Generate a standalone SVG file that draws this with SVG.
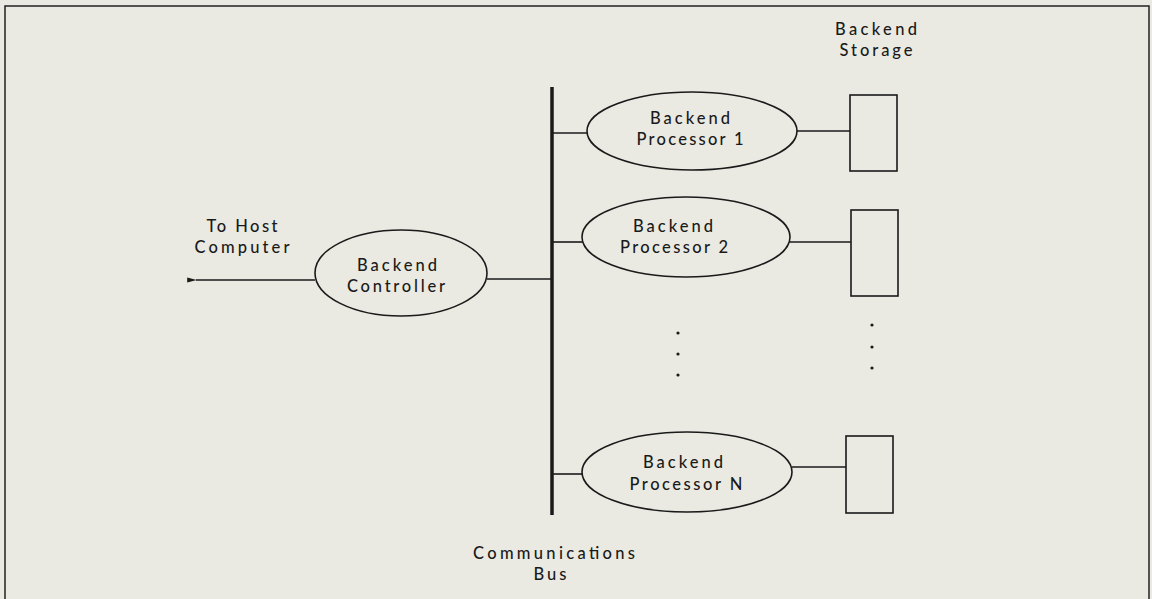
<svg xmlns="http://www.w3.org/2000/svg" width="1152" height="599" viewBox="0 0 1152 599">
<defs>
<marker id="arr" viewBox="0 0 12 10" refX="1" refY="5" markerWidth="11" markerHeight="8" markerUnits="userSpaceOnUse" orient="auto">
<path d="M12,2 L0,5 L12,8 Z" fill="#1a1a1a"/>
</marker>
<style>
.ln{stroke:#1a1a1a;stroke-width:1.6;fill:none}
.sh{stroke:#1a1a1a;stroke-width:1.6;fill:none}
.t{font-family:Lato,"Open Sans","Liberation Sans",sans-serif;font-size:16.5px;font-weight:500;fill:#1a1a1a;text-anchor:middle}
.dot{fill:#1a1a1a}
</style>
</defs>
<rect x="0" y="0" width="1152" height="599" fill="#eaeae2"/>
<rect x="5" y="6" width="1144" height="620" fill="none" stroke="#222" stroke-width="1.5"/>

<g id="connectors">
<line class="ln" x1="552" y1="87" x2="552" y2="515" style="stroke-width:3.5"/>
<line class="ln" x1="315" y1="280" x2="196" y2="280" marker-end="url(#arr)"/>
<line class="ln" x1="487" y1="279" x2="551" y2="279"/>
<line class="ln" x1="553" y1="133" x2="587" y2="133"/>
<line class="ln" x1="553" y1="242" x2="582" y2="242"/>
<line class="ln" x1="553" y1="474" x2="582" y2="474"/>
<line class="ln" x1="797" y1="131" x2="850" y2="131"/>
<line class="ln" x1="790" y1="242" x2="851" y2="242"/>
<line class="ln" x1="792" y1="467" x2="846" y2="467"/>
</g>

<g id="host-label">
<text class="t" x="242" y="232" textLength="71" lengthAdjust="spacing">To Host</text>
<text class="t" x="242" y="253" textLength="95" lengthAdjust="spacing">Computer</text>
</g>

<g id="controller">
<ellipse class="sh" cx="401" cy="273" rx="86" ry="43"/>
<text class="t" x="397" y="271" textLength="80" lengthAdjust="spacing">Backend</text>
<text class="t" x="396" y="292" textLength="98" lengthAdjust="spacing">Controller</text>
</g>

<g id="processor1">
<ellipse class="sh" cx="692" cy="131" rx="105" ry="39"/>
<text class="t" x="690" y="124" textLength="80" lengthAdjust="spacing">Backend</text>
<text class="t" x="690" y="145" textLength="107" lengthAdjust="spacing">Processor 1</text>
</g>

<g id="processor2">
<ellipse class="sh" cx="686" cy="237" rx="104" ry="40"/>
<text class="t" x="673" y="232" textLength="80" lengthAdjust="spacing">Backend</text>
<text class="t" x="674" y="253" textLength="108" lengthAdjust="spacing">Processor 2</text>
</g>

<g id="processorN">
<ellipse class="sh" cx="687" cy="472" rx="105" ry="40"/>
<text class="t" x="683" y="468" textLength="80" lengthAdjust="spacing">Backend</text>
<text class="t" x="686" y="490" textLength="113" lengthAdjust="spacing">Processor N</text>
</g>

<g id="storage-label">
<text class="t" x="876" y="35" textLength="82" lengthAdjust="spacing">Backend</text>
<text class="t" x="876" y="56" textLength="73" lengthAdjust="spacing">Storage</text>
</g>

<g id="storage1"><rect class="sh" x="850" y="95" width="47" height="76"/></g>
<g id="storage2"><rect class="sh" x="851" y="210" width="47" height="86"/></g>
<g id="storageN"><rect class="sh" x="846" y="436" width="47" height="77"/></g>

<g id="ellipsis-dots">
<circle class="dot" cx="678" cy="333" r="1.6"/>
<circle class="dot" cx="678" cy="354" r="1.6"/>
<circle class="dot" cx="678" cy="375" r="1.6"/>
<circle class="dot" cx="872" cy="325" r="1.6"/>
<circle class="dot" cx="872" cy="347" r="1.6"/>
<circle class="dot" cx="872" cy="368" r="1.6"/>
</g>

<g id="bus-label">
<text class="t" x="554" y="559" textLength="162" lengthAdjust="spacing">Communications</text>
<text class="t" x="550" y="580" textLength="33" lengthAdjust="spacing">Bus</text>
</g>
</svg>
